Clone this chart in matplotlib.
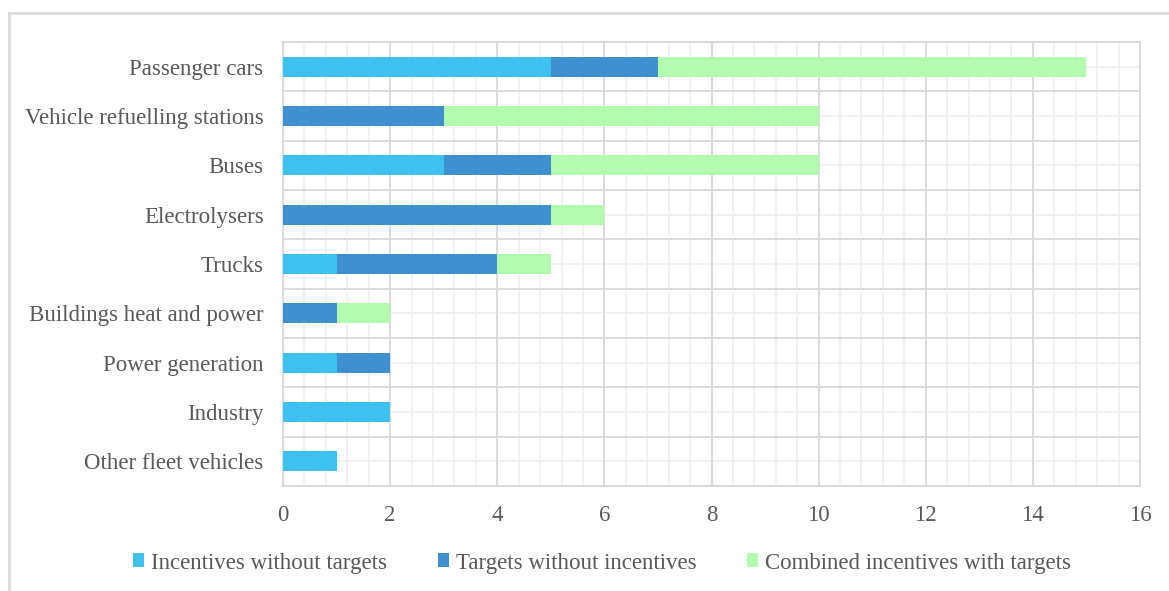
import matplotlib.pyplot as plt
import numpy as np
from matplotlib.lines import Line2D
from matplotlib.patches import Patch

categories = [
    "Passenger cars",
    "Vehicle refuelling stations",
    "Buses",
    "Electrolysers",
    "Trucks",
    "Buildings heat and power",
    "Power generation",
    "Industry",
    "Other fleet vehicles",
]
incentives_only = [5, 0, 3, 0, 1, 0, 1, 2, 1]
targets_only = [2, 3, 2, 5, 3, 1, 1, 0, 0]
combined = [8, 7, 5, 1, 1, 1, 0, 0, 0]
series_names = [
    "Incentives without targets",
    "Targets without incentives",
    "Combined incentives with targets",
]
colors = ["#3FC1F0", "#3F90CE", "#B3FBAE"]
text_color = "#595959"

plt.rcParams["font.family"] = ["Liberation Serif", "DejaVu Serif"]

fig = plt.figure(figsize=(11.69, 5.91), dpi=100)
ax = fig.add_axes([283 / 1169, 1 - 486 / 591, (1140 - 283) / 1169, (486 - 42) / 591])

n = len(categories)
y = np.arange(n)[::-1]
left = np.zeros(n)
for vals, col, name in zip([incentives_only, targets_only, combined], colors, series_names):
    v = np.array(vals, dtype=float)
    ax.barh(y, v, left=left, height=0.4, color=col, label=name, zorder=3)
    left += v

ax.set_xlim(0, 16)
ax.set_ylim(-0.5, n - 0.5)
ax.set_xticks(np.arange(0, 17, 2))
ax.set_yticks(y)
ax.set_yticklabels(categories)

# vertical grid: major every 2, minor every 0.4
for xv in np.arange(0, 16.01, 0.4):
    ax.axvline(xv, color="#f0f0f0", lw=1.3, zorder=1)
for xv in np.arange(0, 17, 2):
    ax.axvline(xv, color="#d9d9d9", lw=1.3, zorder=2)
# horizontal grid: light through bar centres, darker between categories
for yv in y:
    ax.axhline(yv, color="#f0f0f0", lw=1.3, zorder=1)
for yv in np.arange(-0.5, n, 1.0):
    ax.axhline(yv, color="#d9d9d9", lw=1.3, zorder=2)

for s in ax.spines.values():
    s.set_color("#d9d9d9")
    s.set_linewidth(1.3)

ax.tick_params(axis="both", which="both", length=0, colors=text_color, labelsize=16.5)
ax.tick_params(axis="x", pad=14)
ax.tick_params(axis="y", pad=14)

handles = [Patch(facecolor=c, edgecolor="none") for c in colors]
fig.legend(
    handles, series_names, loc="center", bbox_to_anchor=(0.515, 1 - 563 / 591),
    ncol=3, frameon=False, fontsize=16.5, handlelength=0.5, handleheight=0.55,
    handletextpad=0.3, columnspacing=2.2, labelcolor=text_color,
)

# outer frame lines along the top and left edges
fig.add_artist(Line2D([9 / 1169, 1.0], [1 - 13 / 591, 1 - 13 / 591], color="#d9d9d9", lw=2, transform=fig.transFigure))
fig.add_artist(Line2D([9 / 1169, 9 / 1169], [0, 1 - 13 / 591], color="#d9d9d9", lw=2, transform=fig.transFigure))

fig.savefig("out.png", dpi=100)
